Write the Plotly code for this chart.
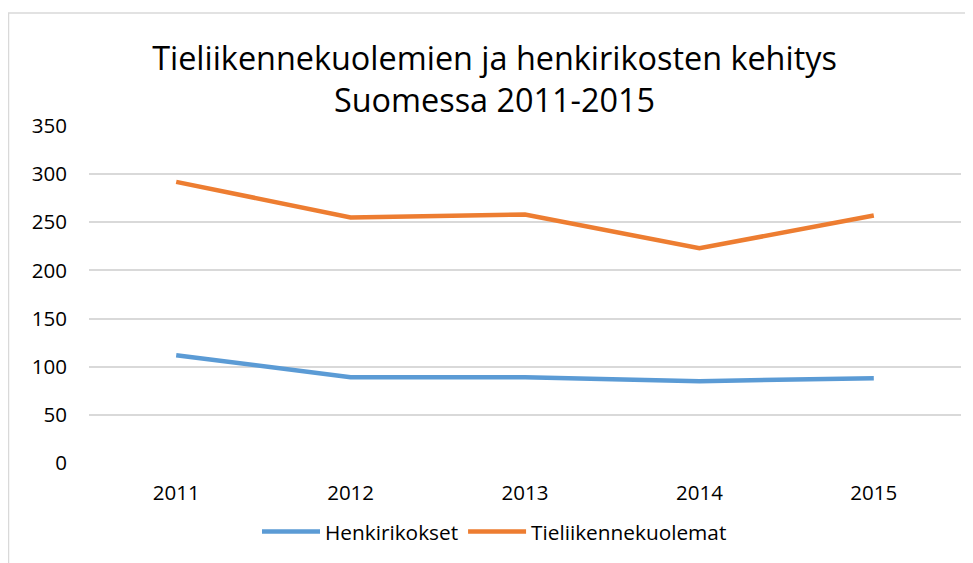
import plotly.graph_objects as go

years = ["2011", "2012", "2013", "2014", "2015"]
henkirikokset = [112, 89, 89, 85, 88]
tieliikennekuolemat = [292, 255, 258, 223, 257]
y_ticks = [0, 50, 100, 150, 200, 250, 300, 350]

FONT = "Open Sans"
W, H = 973, 563
L, R, T, B = 81, 20, 118, 108
pw = W - L - R
ph = H - T - B

fig = go.Figure()
fig.add_trace(go.Scatter(x=years, y=henkirikokset, mode="lines", name="Henkirikokset",
                         line=dict(color="#5B9BD5", width=4.5)))
fig.add_trace(go.Scatter(x=years, y=tieliikennekuolemat, mode="lines", name="Tieliikennekuolemat",
                         line=dict(color="#ED7D31", width=4.5)))

# outer chart border (light gray)
fig.add_shape(type="rect", xref="paper", yref="paper",
              x0=(0.5 - L) / pw, x1=(990 - L) / pw,
              y0=(H - B - 600) / ph, y1=(H - B - 5) / ph,
              line=dict(color="#D9D9D9", width=1.5), fillcolor="rgba(0,0,0,0)", layer="below")

fig.update_layout(
    width=W, height=H,
    margin=dict(l=L, r=R, t=T, b=B, autoexpand=False),
    paper_bgcolor="white", plot_bgcolor="white",
    font=dict(family=FONT, color="#000000", size=20.8),
    title=dict(text="Tieliikennekuolemien ja henkirikosten kehitys<br>Suomessa 2011-2015",
               x=0.5, xref="container", xanchor="center",
               y=1 - 62 / H, yref="container", yanchor="middle",
               font=dict(family=FONT, size=32.4, color="#000000")),
    xaxis=dict(type="category", range=[-0.5, 4.5], showgrid=False, zeroline=False,
               showline=False, ticks="", ticklabelstandoff=15,
               tickfont=dict(family=FONT, size=20.5, color="#000000")),
    yaxis=dict(range=[0, 350], tickvals=y_ticks, showgrid=True, gridcolor="#D9D9D9",
               gridwidth=1.5, zeroline=False, showline=False, ticks="",
               ticklabelstandoff=21,
               tickfont=dict(family=FONT, size=20.5, color="#000000")),
    legend=dict(orientation="h", x=0.5, xref="container", xanchor="center",
                y=1 - 524 / H, yref="container", yanchor="middle",
                font=dict(family=FONT, size=20.8, color="#000000"),
                itemwidth=58, bgcolor="rgba(0,0,0,0)"),
    showlegend=True,
)

fig.write_html("out.html")
